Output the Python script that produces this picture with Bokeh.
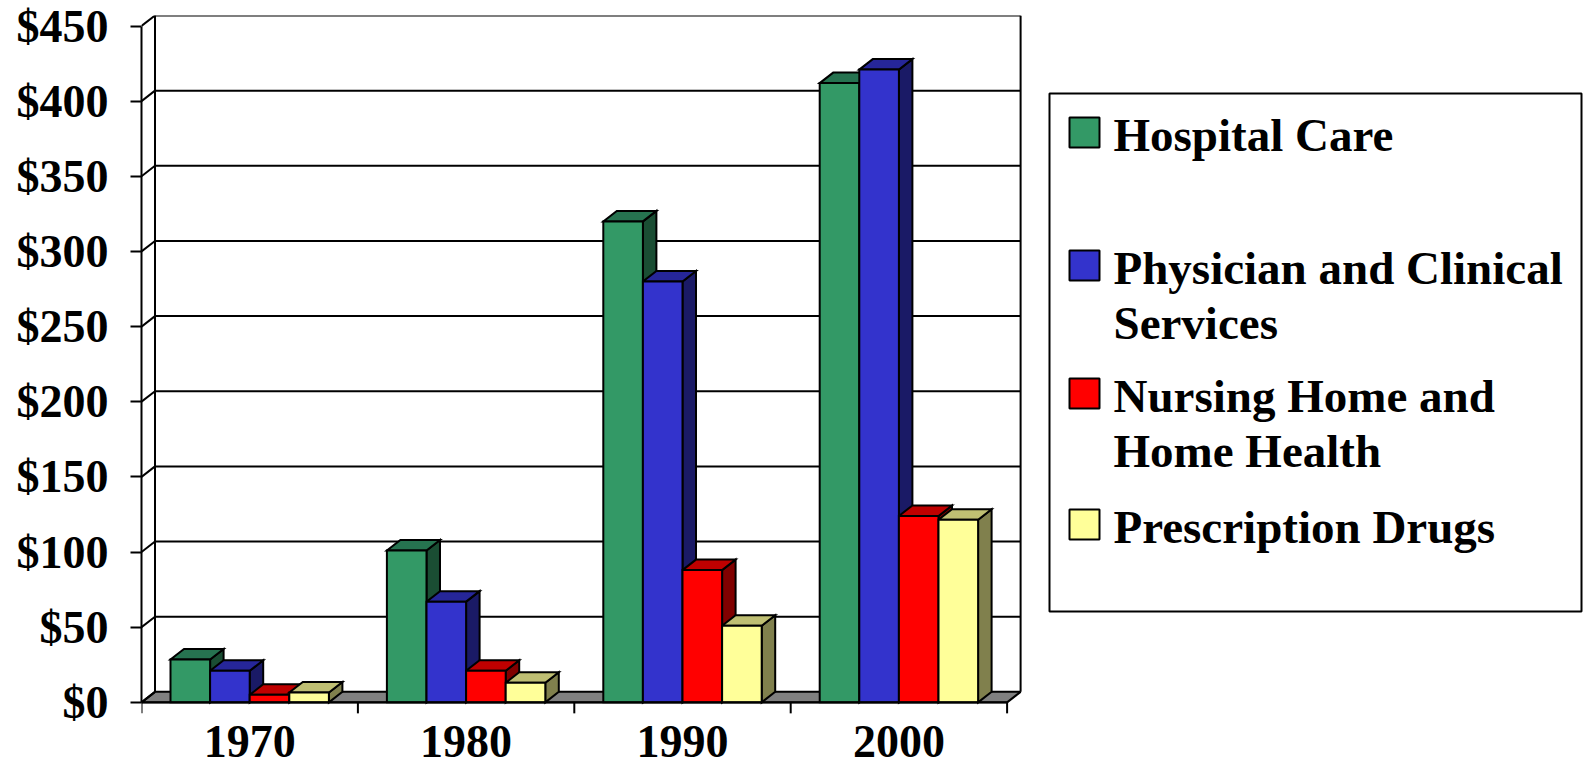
from bokeh.plotting import figure
from bokeh.models import Range1d, FixedTicker, NumeralTickFormatter
from bokeh.layouts import row
from bokeh.embed import file_html
from bokeh.resources import INLINE
from bokeh.core.properties import value

# ---------------- data ----------------
years = ["1970", "1980", "1990", "2000"]
series = ["Hospital Care", "Physician and Clinical Services",
          "Nursing Home and Home Health", "Prescription Drugs"]
legend_lines = [["Hospital Care"], ["Physician and Clinical", "Services"],
                ["Nursing Home and", "Home Health"], ["Prescription Drugs"]]
hospital = [28.5, 101, 320, 412]
physician = [21, 67, 280, 421]
nursing = [5, 21, 88, 124]
drugs = [6.5, 13, 51, 121.5]
values_by_series = [hospital, physician, nursing, drugs]
front_colors = ["#339966", "#3333CC", "#FF0000", "#FFFF99"]
top_colors = ["#267350", "#262699", "#BF0000", "#BFBF73"]
side_colors = ["#1A4D33", "#1A1A66", "#800000", "#80804D"]
y_ticks = [0, 50, 100, 150, 200, 250, 300, 350, 400, 450]

# ---------------- layout constants ----------------
FONT = "Liberation Serif"
W_MAIN, H = 1030, 770
BORDER_L, FRAME_TOP = 141, 15
PX_CAT, PX_USD = 216.4, 1.503
DX = 13.5 / PX_CAT
DY = 10.5 / PX_USD
Y_MAX = 450
y_end = Y_MAX + DY
y_start = y_end - (H - FRAME_TOP) / PX_USD
x_end = (W_MAIN - BORDER_L) / PX_CAT
NCAT = len(years)
BAR_W = 0.183
GAP = (1 - len(series) * BAR_W) / 2
LW = 2
TICK_LEN = 11 / PX_USD

p = figure(width=W_MAIN, height=H, x_range=Range1d(0, x_end), y_range=Range1d(y_start, y_end),
           output_backend="svg", toolbar_location=None, title=None,
           min_border_left=BORDER_L, min_border_right=0, min_border_top=FRAME_TOP, min_border_bottom=0)
p.outline_line_color = None
p.xgrid.visible = False
p.ygrid.visible = False
p.background_fill_color = "white"

# floor
p.patch([0, NCAT, NCAT + DX, DX], [0, 0, DY, DY], fill_color="#808080",
        line_color="black", line_width=LW)

# back wall: gridlines, edges, tick connectors
p.segment(x0=[DX] * (len(y_ticks) - 1), y0=[t + DY for t in y_ticks[1:]],
          x1=[NCAT + DX] * (len(y_ticks) - 1), y1=[t + DY for t in y_ticks[1:]],
          line_color="black", line_width=LW)
p.segment(x0=[DX, NCAT + DX], y0=[DY, DY], x1=[DX, NCAT + DX], y1=[Y_MAX + DY, Y_MAX + DY],
          line_color="black", line_width=LW)
p.segment(x0=[0] * len(y_ticks), y0=y_ticks, x1=[DX] * len(y_ticks),
          y1=[t + DY for t in y_ticks], line_color="black", line_width=LW)

# category separator ticks below the floor edge
cat_edges = list(range(NCAT + 1))
p.segment(x0=cat_edges, y0=[0] * len(cat_edges), x1=cat_edges, y1=[-TICK_LEN] * len(cat_edges),
          line_color="black", line_width=LW)

# bars
side_xs, side_ys, side_c = [], [], []
top_xs, top_ys, top_c = [], [], []
fl, fr, ft, fc = [], [], [], []
for j in range(NCAT):
    for i, vals in enumerate(values_by_series):
        v = vals[j]
        x0 = j + GAP + i * BAR_W
        x1 = x0 + BAR_W
        side_xs.append([x1, x1 + DX, x1 + DX, x1])
        side_ys.append([0, DY, v + DY, v])
        side_c.append(side_colors[i])
        top_xs.append([x0, x1, x1 + DX, x0 + DX])
        top_ys.append([v, v, v + DY, v + DY])
        top_c.append(top_colors[i])
        fl.append(x0); fr.append(x1); ft.append(v); fc.append(front_colors[i])

p.patches(side_xs, side_ys, fill_color=side_c, line_color="black", line_width=LW, line_join="miter")
p.patches(top_xs, top_ys, fill_color=top_c, line_color="black", line_width=LW, line_join="miter")
p.quad(left=fl, right=fr, bottom=[0] * len(fl), top=ft, fill_color=fc,
       line_color="black", line_width=LW, line_join="miter")

# y axis (front)
ya = p.yaxis[0]
ya.bounds = (0, Y_MAX)
ya.ticker = FixedTicker(ticks=y_ticks)
ya.formatter = NumeralTickFormatter(format="$0")
ya.axis_line_width = LW
ya.major_tick_line_width = LW
ya.major_tick_out = 11
ya.major_tick_in = 0
ya.minor_tick_out = 0
ya.minor_tick_in = 0
ya.major_label_standoff = 22
ya.major_label_text_font = FONT
ya.major_label_text_font_style = "bold"
ya.major_label_text_font_size = "46px"
ya.major_label_text_color = "black"

# x axis (front floor edge)
xa = p.xaxis[0]
xa.fixed_location = 0
xa.bounds = (0, NCAT)
xa.ticker = FixedTicker(ticks=[j + 0.5 for j in range(NCAT)])
xa.major_label_overrides = {j + 0.5: years[j] for j in range(NCAT)}
xa.axis_line_width = LW
xa.major_tick_out = 0
xa.major_tick_in = 0
xa.minor_tick_out = 0
xa.minor_tick_in = 0
xa.major_label_standoff = 24
xa.major_label_text_font = FONT
xa.major_label_text_font_style = "bold"
xa.major_label_text_font_size = "46px"
xa.major_label_text_color = "black"

# ---------------- legend figure (coordinates follow the page, y downward) ----------------
# the row aligns both frames, so the legend frame also starts at FRAME_TOP
W_LEG = 553
leg = figure(width=W_LEG, height=H, x_range=Range1d(0, W_LEG), y_range=Range1d(H, FRAME_TOP),
             output_backend="svg", toolbar_location=None, x_axis_type=None, y_axis_type=None,
             title=None,
             min_border_left=0, min_border_right=0, min_border_top=FRAME_TOP, min_border_bottom=0)
leg.outline_line_color = None
leg.quad(left=[19], right=[551], top=[93], bottom=[611], fill_color=None,
         line_color="black", line_width=LW)
swatch_bottoms = [147, 280, 408, 539]
LINE_STEP = 55
TEXT_SHIFT = 13
leg.quad(left=[39] * 4, right=[69] * 4, top=[b - 30 for b in swatch_bottoms], bottom=swatch_bottoms,
         fill_color=front_colors, line_color="black", line_width=LW)
tx, ty, tt = [], [], []
for b, lines in zip(swatch_bottoms, legend_lines):
    for k, ln in enumerate(lines):
        tx.append(83); ty.append(b - TEXT_SHIFT + k * LINE_STEP); tt.append(ln)
leg.text(x=tx, y=ty, text=tt, text_font=value(FONT), text_font_style="bold",
         text_font_size="47px", text_baseline="alphabetic", text_align="left", text_color="black")

layout = row(p, leg)
open("out.html", "w").write(file_html(layout, INLINE))
